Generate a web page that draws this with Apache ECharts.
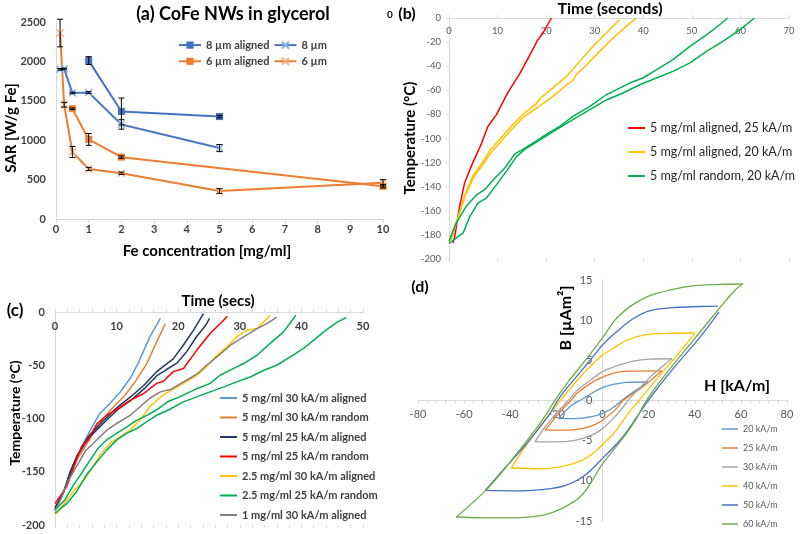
<!DOCTYPE html>
<html>
<head>
<meta charset="utf-8">
<script src="https://cdn.jsdelivr.net/npm/echarts@6/dist/echarts.min.js"></script>
<style>html,body{margin:0;padding:0;background:#fff}#chart{width:800px;height:534px}</style>
</head>
<body>
<div id="chart"></div>
<script>
// ---------- Panel (a): SAR vs Fe concentration ----------
const aConc8Al = [1, 2, 5];
const aSar8Al  = [2010, 1365, 1300];
const aErr8Al  = [50, 170, 15];
const aConc8   = [0.125, 0.25, 0.5, 1, 2, 5];
const aSar8    = [1900, 1905, 1600, 1605, 1200, 900];
const aErr8    = [10, 10, 10, 10, 60, 45];
const aConc6Al = [0.5, 1, 2, 10];
const aSar6Al  = [1400, 1010, 785, 415];
const aErr6Al  = [10, 75, 15, 20];
const aConc6   = [0.125, 0.25, 0.5, 1, 2, 5, 10];
const aSar6    = [2360, 1450, 850, 635, 580, 355, 460];
const aErr6    = [175, 30, 70, 20, 15, 30, 40];
const aNames = ['8 µm aligned', '8 µm', '6 µm aligned', '6 µm'];

// ---------- Panel (b): temperature vs time (seconds) ----------
const bNames = ['5 mg/ml aligned, 25 kA/m', '5 mg/ml aligned, 20 kA/m', '5 mg/ml random, 20 kA/m'];
const bRed = [[0.8,-187],[1.2,-181],[2.2,-156],[3.2,-137],[4.9,-120],[6.7,-104],[8,-90],[9.8,-80],[12.1,-62],[14.6,-46],[16.6,-31],[18.3,-18],[19.4,-12],[21.1,0]];
const bYellow1 = [[0,-185],[0.5,-181],[1.85,-165],[3.2,-148],[4.9,-131],[6.7,-121],[8.4,-110],[10.8,-99],[12.8,-90],[15.2,-80],[18,-71],[18.7,-67],[21.4,-58],[24.2,-48.5],[26.9,-36],[29.6,-23.6],[32.4,-12.5],[35.1,-1.5]];
const bYellow2 = [[0,-186],[0.6,-182],[2,-164],[3.4,-147],[5.1,-132],[6.9,-122],[8.6,-112],[11,-101],[13,-92],[15.4,-82],[18.7,-73],[21.4,-65],[24.2,-55.4],[25.5,-52],[26.2,-47],[28.3,-39],[31,-27.7],[33.8,-16.6],[36.5,-7],[38.6,0]];
const bGreen1 = [[0,-185],[1.5,-170],[3.6,-156],[5.6,-147],[7.35,-142.5],[9.4,-133],[11.5,-124.5],[13.5,-113],[15.6,-108],[18,-102],[20.4,-95.5],[22.8,-90],[25.5,-81.6],[29,-73.4],[32.4,-63.7],[34.5,-59.5],[37.2,-54],[39.9,-49.8],[42.7,-43],[46.1,-34.6],[49.6,-23.6],[53,-14],[55.7,-5.6],[57.4,0]];
const bGreen2 = [[0,-187],[2.9,-178.4],[4.3,-164.6],[6,-153.5],[7.7,-149.4],[9.8,-138.3],[11.8,-127.3],[13.9,-115],[15.6,-109],[18,-103],[20.4,-97],[22.8,-91],[25.5,-84.4],[29,-76],[32.4,-68],[35.8,-62.2],[39.3,-55.4],[42.7,-49.8],[46.1,-44.3],[49.6,-37.3],[53,-27.7],[56.4,-19.4],[59.9,-9.7],[62.9,0]];

// ---------- Panel (c): temperature vs time (secs) ----------
const cNames = ['5 mg/ml 30 kA/m aligned', '5 mg/ml 30 kA/m random', '5 mg/ml 25 kA/m aligned', '5 mg/ml 25 kA/m random', '2.5 mg/ml 30 kA/m aligned', '2.5 mg/ml 25 kA/m random', '1 mg/ml 30 kA/m aligned'];
const cLightBlue = [[0,-184],[1.35,-170],[2.4,-155],[3.5,-139],[4.6,-123],[6,-108],[7.3,-95],[8.9,-86],[10.6,-75],[12.2,-62.5],[13.5,-48],[15.4,-23.4],[17.1,-6]];
const cOrange = [[0,-186],[1.1,-173],[2.4,-155],[3.6,-138],[4.9,-126.5],[6.2,-114],[7.85,-100],[9.5,-89],[11.4,-78],[13,-65.6],[14.9,-48.4],[16.5,-28],[17.9,-11]];
const cNavy1 = [[0,-184],[1.35,-170],[2.4,-151],[3.5,-136],[5.4,-117],[6.8,-108],[8.4,-99],[10,-90],[12.2,-80],[14.4,-69],[16.5,-56],[17.6,-51],[19.2,-44],[20.85,-31],[22.5,-17],[24.1,-1.5]];
const cNavy2 = [[0,-185],[1.4,-169],[2.5,-150],[3.6,-135],[5.5,-118],[6.9,-110],[8.5,-101],[10.1,-92],[12.3,-83],[14.5,-72],[16.5,-60],[18.1,-54],[19.8,-48],[21.4,-37],[23,-23],[24.4,-13],[25.1,-6]];
const cRed = [[0,-180],[1.9,-164],[3.25,-142],[4.3,-126.5],[5.4,-120],[6.8,-105],[8.4,-97],[10.3,-90.6],[12.2,-83],[14.4,-76.5],[16.5,-67],[17.6,-65],[19.2,-56],[20.85,-53],[23,-36],[25.2,-20],[26.8,-11],[28,-4]];
const cYellow = [[0,-190],[0.5,-187.5],[1.9,-176.5],[3.25,-167],[4.6,-159],[6.2,-145],[7.3,-134.4],[8.9,-123.4],[10.6,-117],[12.2,-111],[13.8,-101.5],[15.4,-89],[17.1,-80],[18.7,-74],[20.85,-67],[23,-59.4],[24.6,-51.5],[26.3,-40.6],[27.9,-32.8],[29.5,-23.4],[31.1,-17.2],[32.8,-15.6],[33.9,-9.3],[34.9,-3]];
const cGreen1 = [[0,-186],[1.6,-176.5],[3,-162.5],[4.3,-151.5],[5.7,-139],[7,-128],[8.4,-120],[10,-114],[11.6,-108],[13.3,-101.5],[14.9,-97],[16.5,-92],[18.4,-84],[20.85,-78],[23,-72],[25.2,-67],[26.8,-59.4],[29,-53],[30.6,-48.4],[32.8,-40.6],[34.9,-29.7],[37.1,-18.7],[39.1,-3]];
const cGreen2 = [[0,-189],[1.9,-180],[3.5,-168.7],[5.1,-153],[6.8,-140.6],[8.4,-129.7],[10,-120.3],[11.6,-114],[13.3,-109.4],[14.9,-103],[16.5,-97],[18.4,-92],[20.85,-84.4],[23,-79.7],[25.2,-75],[27.4,-70.3],[29.5,-65.6],[31.7,-61],[33.9,-54.7],[36,-50],[38.2,-42.2],[40.4,-34],[42.5,-24],[44,-17],[45.7,-10],[47.3,-5]];
const cGray = [[0,-187],[1,-175],[2,-160],[3.5,-145],[5,-130],[6.8,-120],[8.4,-111],[10,-104.7],[12.2,-97],[13.8,-89],[15.4,-81],[17.1,-75],[18.7,-72.8],[20.85,-65.6],[23,-58.4],[24.6,-50],[26.3,-42.2],[28.5,-31.2],[30.6,-23.4],[32.8,-15.6],[34.4,-10.9],[36,-4.7]];

// ---------- Panel (d): hysteresis loops B vs H (upper = descending field, lower = ascending) ----------
const dNames = ['20 kA/m', '25 kA/m', '30 kA/m', '40 kA/m', '50 kA/m', '60 kA/m'];
const dUp20  = [[19.9,2.3],[10.5,2.25],[4.7,2.0],[0,1.6],[-4,1.0],[-8.3,0.25],[-13.4,-0.6],[-19.2,-2.25]];
const dLow20 = [[-19.2,-2.25],[-11.9,-2.25],[-4.7,-2.0],[0,-1.6],[4,-1.0],[8.3,0],[13.4,1.07],[19.9,2.3]];
const dUp25  = [[25.7,3.7],[13.4,3.66],[6.1,3.5],[0,2.9],[-5.4,2.1],[-11.2,0.87],[-13.4,0.1],[-17.7,-1.2],[-24.9,-3.7]];
const dLow25 = [[-24.9,-3.7],[-16.3,-3.7],[-9,-3.5],[-3.3,-3.0],[0,-2.45],[5.4,-1.2],[9,0],[17,1.6],[25.7,3.7]];
const dUp30  = [[30,5.2],[20.6,5.15],[13.4,4.9],[6.1,4.3],[0,3.6],[-5.4,2.5],[-11.2,1.2],[-14.8,0],[-20.6,-1.8],[-24.9,-3.3],[-29.3,-5.15]];
const dLow30 = [[-29.3,-5.15],[-20.6,-5.15],[-11.9,-4.95],[-4.7,-4.3],[0,-3.5],[5.4,-2.0],[9.8,-0.5],[12,0.3],[21,3.0],[30,5.2]];
const dUp40  = [[40,8.4],[28,8.35],[17.7,8.15],[10.5,7.5],[4.7,6.5],[0,5.65],[-4,4.6],[-9.8,2.9],[-15.5,1.0],[-17.7,0.2],[-23.5,-1.9],[-32.2,-5.2],[-39.6,-8.4]];
const dLow40 = [[-39.6,-8.4],[-26.4,-8.5],[-16.3,-8.15],[-9,-7.45],[-3.3,-6.4],[0,-5.5],[5.4,-3.9],[11.2,-1.6],[15.8,0],[24.9,3.15],[33.6,6.06],[40,8.4]];
const dUp50  = [[50,11.75],[42,11.7],[30,11.55],[20.6,11.2],[13.4,10.2],[6.1,8.55],[0,6.9],[-5.4,5.0],[-11.2,3.0],[-17,1.0],[-19.2,0.1],[-23.5,-1.9],[-33.6,-5.6],[-42.3,-8.4],[-50.8,-11.2]];
const dLow50 = [[-50.8,-11.2],[-38,-11.25],[-26.4,-11.1],[-16.3,-10.6],[-7.6,-9.3],[0,-7.2],[8.3,-4.7],[15.5,-1.8],[19.8,0],[30.7,4.0],[42.3,7.9],[50.5,11.0]];
const dUp60  = [[60.8,14.5],[50,14.45],[40,14.3],[30,13.8],[20,13.0],[13,11.9],[6,10.2],[0,7.8],[-8,4.8],[-15,2.3],[-20,0.3],[-26,-2.4],[-38,-6.9],[-50,-11],[-63.4,-14.5]];
const dLow60 = [[-63.4,-14.5],[-52,-14.6],[-38,-14.6],[-26,-14.3],[-18,-13.5],[-9,-11.8],[0,-7.9],[8,-5.0],[14,-2.6],[19,0],[28,3.5],[39.4,7.5],[49.5,11.05],[57.5,13.75],[60.8,14.5]];

// ---------- helpers ----------
const FONT = 'Lato';
const AXIS_GRAY = '#d9d9d9';
const LABEL_GRAY = '#595959';
const pairs = (xs, ys) => xs.map((x, i) => [x, ys[i]]);
const triples = (xs, ys, es) => xs.map((x, i) => [x, ys[i], es[i]]);
const CROSS = 'path://M0,0L10,10M10,0L0,10';

function errSeries(data) {
  return {
    type: 'custom', xAxisIndex: 0, yAxisIndex: 0, z: 5, silent: true,
    data: data,
    encode: { x: 0, y: 1 },
    renderItem: function (params, api) {
      const x = api.value(0), y = api.value(1), e = api.value(2);
      const t = api.coord([x, y + e]);
      const b = api.coord([x, y - e]);
      const hw = 3;
      const st = { stroke: '#000', lineWidth: 1 };
      return {
        type: 'group',
        children: [
          { type: 'line', shape: { x1: t[0], y1: t[1], x2: b[0], y2: b[1] }, style: st },
          { type: 'line', shape: { x1: t[0] - hw, y1: t[1], x2: t[0] + hw, y2: t[1] }, style: st },
          { type: 'line', shape: { x1: b[0] - hw, y1: b[1], x2: b[0] + hw, y2: b[1] }, style: st }
        ]
      };
    }
  };
}

function curve(name, data, color, xi, yi, width, smooth) {
  return {
    name: name, type: 'line', xAxisIndex: xi, yAxisIndex: yi,
    data: data, symbol: 'none', smooth: smooth || false,
    lineStyle: { color: color, width: width },
    itemStyle: { color: color },
    color: color, animation: false
  };
}

function txt(text, x, y, font, rot) {
  return {
    type: 'text', x: x, y: y, rotation: rot || 0,
    style: { text: text, font: font, fill: '#000', align: 'center', verticalAlign: 'middle' }
  };
}

const labelStyle = (size, bold) => ({ fontFamily: FONT, fontSize: size, fontWeight: bold ? 'bold' : 'normal', color: LABEL_GRAY });
const plain = v => String(v);

// grid (d) geometry, used to place its axes through the origin
const GD = { left: 418, top: 280, width: 369, height: 241 };
const D_XMIN = -80, D_XMAX = 80, D_YMIN = -15, D_YMAX = 15;
const dXAxisOffset = -GD.height * (0 - D_YMIN) / (D_YMAX - D_YMIN);
const dYAxisOffset = -GD.width * (0 - D_XMIN) / (D_XMAX - D_XMIN);

const chart = echarts.init(document.getElementById('chart'), null, { renderer: 'canvas' });

const option = {
  animation: false,
  backgroundColor: '#fff',
  grid: [
    { left: 56, top: 22, width: 327, height: 197 },
    { left: 449, top: 18, width: 340, height: 241 },
    { left: 55, top: 312, width: 308, height: 213 },
    GD
  ],
  xAxis: [
    { gridIndex: 0, type: 'value', min: 0, max: 10, interval: 1,
      axisLine: { lineStyle: { color: AXIS_GRAY } },
      axisTick: { show: true, length: 4, lineStyle: { color: AXIS_GRAY } },
      axisLabel: Object.assign(labelStyle(11, true), { margin: 5, color: '#404040', formatter: plain }),
      splitLine: { show: false } },
    { gridIndex: 1, type: 'value', min: 0, max: 70, interval: 10, position: 'top',
      axisLine: { lineStyle: { color: AXIS_GRAY } },
      axisTick: { show: true, length: 3, lineStyle: { color: AXIS_GRAY } },
      axisLabel: Object.assign(labelStyle(9.5, false), { inside: true, margin: 8, formatter: plain }),
      splitLine: { show: false } },
    { gridIndex: 1, type: 'value', min: 0, max: 70, interval: 10, position: 'bottom',
      axisLine: { show: true, lineStyle: { color: 'rgba(0,0,0,0)' } },
      axisTick: { show: true, inside: false, length: 3, lineStyle: { color: AXIS_GRAY } },
      axisLabel: { show: false }, splitLine: { show: false } },
    { gridIndex: 2, type: 'value', min: 0, max: 50, interval: 10, position: 'top',
      axisLine: { lineStyle: { color: AXIS_GRAY } },
      axisTick: { show: true, length: 3, lineStyle: { color: AXIS_GRAY } },
      minorTick: { show: true, splitNumber: 5, length: 3, lineStyle: { color: AXIS_GRAY } },
      axisLabel: Object.assign(labelStyle(11, true), { inside: true, margin: 9, color: '#404040', formatter: plain }),
      splitLine: { show: false } },
    { gridIndex: 2, type: 'value', min: 0, max: 50, interval: 10, position: 'bottom',
      axisLine: { show: true, lineStyle: { color: 'rgba(0,0,0,0)' } },
      axisTick: { show: true, inside: false, length: 3, lineStyle: { color: AXIS_GRAY } },
      minorTick: { show: true, splitNumber: 5, length: 3, lineStyle: { color: AXIS_GRAY } },
      axisLabel: { show: false }, splitLine: { show: false } },
    { gridIndex: 3, type: 'value', min: D_XMIN, max: D_XMAX, interval: 20, position: 'bottom', offset: dXAxisOffset,
      axisLine: { onZero: false, lineStyle: { color: AXIS_GRAY } },
      axisTick: { show: true, length: 3, lineStyle: { color: AXIS_GRAY } },
      minorTick: { show: true, splitNumber: 5, length: 3, lineStyle: { color: AXIS_GRAY } },
      axisLabel: Object.assign(labelStyle(11, false), { margin: 8, formatter: plain }),
      splitLine: { show: false } }
  ],
  yAxis: [
    { gridIndex: 0, type: 'value', min: 0, max: 2500, interval: 500,
      axisLine: { show: true, lineStyle: { color: AXIS_GRAY } },
      axisTick: { show: false },
      axisLabel: Object.assign(labelStyle(11, true), { margin: 10, color: '#404040', formatter: plain }),
      splitLine: { show: false } },
    { gridIndex: 1, type: 'value', min: -200, max: 0, interval: 20, position: 'left',
      axisLine: { show: true, lineStyle: { color: AXIS_GRAY } },
      axisTick: { show: true, length: 3, lineStyle: { color: AXIS_GRAY } },
      axisLabel: Object.assign(labelStyle(9.5, false), { margin: 8, formatter: plain }),
      splitLine: { show: false } },
    { gridIndex: 2, type: 'value', min: -200, max: 0, interval: 50,
      axisLine: { show: true, lineStyle: { color: AXIS_GRAY } },
      axisTick: { show: false },
      axisLabel: Object.assign(labelStyle(11, true), { margin: 10, color: '#404040', formatter: plain }),
      splitLine: { show: false } },
    { gridIndex: 3, type: 'value', min: D_YMIN, max: D_YMAX, interval: 5, position: 'left', offset: dYAxisOffset,
      axisLine: { show: true, onZero: false, lineStyle: { color: AXIS_GRAY } },
      axisTick: { show: false },
      axisLabel: Object.assign(labelStyle(11, false), { margin: 10, formatter: plain }),
      splitLine: { show: false } }
  ],
  legend: [
    { data: aNames, left: 178, top: 39, width: 180, orient: 'horizontal', padding: 0,
      itemWidth: 22, itemHeight: 9, itemGap: 4,
      textStyle: { fontFamily: FONT, fontWeight: 'bold', fontSize: 11, color: '#404040', lineHeight: 12 } },
    { data: bNames, left: 628, top: 120.5, orient: 'vertical', padding: 0, icon: 'rect',
      itemWidth: 17, itemHeight: 2, itemGap: 9,
      textStyle: { fontFamily: FONT, fontSize: 12.5, color: '#262626', lineHeight: 15 } },
    { data: cNames, left: 220, top: 391.5, orient: 'vertical', padding: 0, icon: 'rect',
      itemWidth: 17, itemHeight: 2, itemGap: 6.5,
      textStyle: { fontFamily: FONT, fontWeight: 'bold', fontSize: 11, color: '#404040', lineHeight: 13 } },
    { data: dNames, left: 722, top: 423.5, orient: 'vertical', padding: 0, icon: 'rect',
      itemWidth: 16, itemHeight: 1.5, itemGap: 8,
      textStyle: { fontFamily: FONT, fontSize: 9, color: LABEL_GRAY, lineHeight: 11 } }
  ],
  series: [
    // (a)
    { name: aNames[0], type: 'line', xAxisIndex: 0, yAxisIndex: 0, data: pairs(aConc8Al, aSar8Al),
      symbol: 'rect', symbolSize: 7, lineStyle: { color: '#4472C4', width: 2 },
      itemStyle: { color: '#4472C4' }, color: '#4472C4' },
    { name: aNames[1], type: 'line', xAxisIndex: 0, yAxisIndex: 0, data: pairs(aConc8, aSar8),
      symbol: CROSS, symbolSize: 7, lineStyle: { color: '#4a78cc', width: 2 },
      itemStyle: { color: 'none', borderColor: '#8fb4e8', borderWidth: 1.5 }, color: '#4a78cc' },
    { name: aNames[2], type: 'line', xAxisIndex: 0, yAxisIndex: 0, data: pairs(aConc6Al, aSar6Al),
      symbol: 'rect', symbolSize: 7, lineStyle: { color: '#ED7D31', width: 2 },
      itemStyle: { color: '#ED7D31' }, color: '#ED7D31' },
    { name: aNames[3], type: 'line', xAxisIndex: 0, yAxisIndex: 0, data: pairs(aConc6, aSar6),
      symbol: CROSS, symbolSize: 7, lineStyle: { color: '#ED7D31', width: 2 },
      itemStyle: { color: 'none', borderColor: '#F4B183', borderWidth: 1.5 }, color: '#ED7D31' },
    errSeries(triples(aConc8Al, aSar8Al, aErr8Al)),
    errSeries(triples(aConc8, aSar8, aErr8)),
    errSeries(triples(aConc6Al, aSar6Al, aErr6Al)),
    errSeries(triples(aConc6, aSar6, aErr6)),
    // (b)
    curve(bNames[0], bRed, '#FF0000', 1, 1, 1.5),
    curve(bNames[1], bYellow1, '#FFC000', 1, 1, 1.5),
    curve(bNames[1], bYellow2, '#FFC000', 1, 1, 1.5),
    curve(bNames[2], bGreen1, '#00B050', 1, 1, 1.5),
    curve(bNames[2], bGreen2, '#00B050', 1, 1, 1.5),
    // (c)
    curve(cNames[0], cLightBlue, '#5B9BD5', 3, 2, 1.5),
    curve(cNames[1], cOrange, '#ED7D31', 3, 2, 1.5),
    curve(cNames[2], cNavy1, '#203864', 3, 2, 1.5),
    curve(cNames[2], cNavy2, '#203864', 3, 2, 1.5),
    curve(cNames[3], cRed, '#FF0000', 3, 2, 1.5),
    curve(cNames[4], cYellow, '#FFC000', 3, 2, 1.5),
    curve(cNames[5], cGreen1, '#00B050', 3, 2, 1.5),
    curve(cNames[5], cGreen2, '#00B050', 3, 2, 1.5),
    curve(cNames[6], cGray, '#7F7F7F', 3, 2, 1.5),
    // (d)
    curve(dNames[0], dUp20, '#5B9BD5', 5, 3, 1.3, 0.35),
    curve(dNames[0], dLow20, '#5B9BD5', 5, 3, 1.3, 0.35),
    curve(dNames[1], dUp25, '#ED7D31', 5, 3, 1.3, 0.35),
    curve(dNames[1], dLow25, '#ED7D31', 5, 3, 1.3, 0.35),
    curve(dNames[2], dUp30, '#A5A5A5', 5, 3, 1.3, 0.35),
    curve(dNames[2], dLow30, '#A5A5A5', 5, 3, 1.3, 0.35),
    curve(dNames[3], dUp40, '#FFC000', 5, 3, 1.3, 0.35),
    curve(dNames[3], dLow40, '#FFC000', 5, 3, 1.3, 0.35),
    curve(dNames[4], dUp50, '#4472C4', 5, 3, 1.3, 0.35),
    curve(dNames[4], dLow50, '#4472C4', 5, 3, 1.3, 0.35),
    curve(dNames[5], dUp60, '#70AD47', 5, 3, 1.3, 0.35),
    curve(dNames[5], dLow60, '#70AD47', 5, 3, 1.3, 0.35)
  ],
  graphic: [
    txt('(a) CoFe NWs in glycerol', 233, 14, 'bold 18px Lato'),
    txt('Fe concentration [mg/ml]', 207, 251, 'bold 15px Lato'),
    txt('SAR [W/g Fe]', 11, 128, 'bold 15px Lato', Math.PI / 2),
    txt('0', 390, 15, 'bold 10px Lato'),
    txt('(b)', 407, 14, 'bold 16px Lato'),
    txt('Time (seconds)', 610, 9, 'bold 16px Lato'),
    txt('Temperature (°C)', 410, 138, 'bold 15px Lato', Math.PI / 2),
    txt('(c)', 15, 311, 'bold 17px Lato'),
    txt('Time (secs)', 218, 301, 'bold 15px Lato'),
    txt('Temperature (°C)', 15, 413, 'bold 14px Lato', Math.PI / 2),
    txt('(d)', 420, 287, 'bold 16px Lato'),
    txt('H [kA/m]', 737, 386, 'bold 16px Lato'),
    txt('B [µAm²]', 566, 318, 'bold 16px Lato', Math.PI / 2)
  ]
};
chart.setOption(option);
</script>
</body>
</html>
